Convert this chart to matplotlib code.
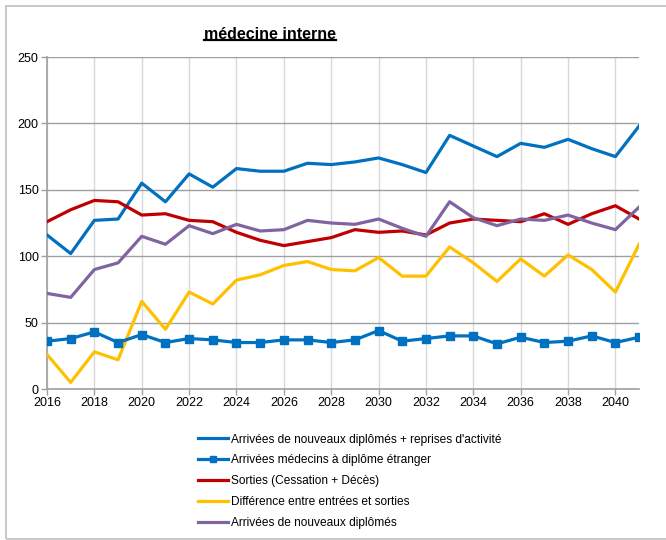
import matplotlib
matplotlib.use("Agg")
import matplotlib.pyplot as plt
from matplotlib.lines import Line2D
from matplotlib.patches import Rectangle

plt.rcParams['font.family'] = ['Liberation Sans', 'DejaVu Sans']

years = list(range(2016, 2042))

arrivees_reprises = [116, 102, 127, 128, 155, 141, 162, 152, 166, 164, 164, 170, 169, 171,
                     174, 169, 163, 191, 183, 175, 185, 182, 188, 181, 175, 198]
arrivees_etranger = [36, 38, 43, 35, 41, 35, 38, 37, 35, 35, 37, 37, 35, 37,
                     44, 36, 38, 40, 40, 34, 39, 35, 36, 40, 35, 39]
sorties = [126, 135, 142, 141, 131, 132, 127, 126, 118, 112, 108, 111, 114, 120,
           118, 119, 116, 125, 128, 127, 126, 132, 124, 132, 138, 128]
difference = [26, 5, 28, 22, 66, 45, 73, 64, 82, 86, 93, 96, 90, 89,
              99, 85, 85, 107, 95, 81, 98, 85, 101, 90, 73, 109]
nouveaux_diplomes = [72, 69, 90, 95, 115, 109, 123, 117, 124, 119, 120, 127, 125, 124,
                     128, 121, 115, 141, 129, 123, 128, 127, 131, 125, 120, 137]

labels = [
    "Arrivées de nouveaux diplômés + reprises d'activité",
    "Arrivées médecins à diplôme étranger",
    "Sorties (Cessation + Décès)",
    "Différence entre entrées et sorties",
    "Arrivées de nouveaux diplômés",
]
title = "médecine interne"

fig = plt.figure(figsize=(6.66, 5.4), dpi=100)
ax = fig.add_axes([0.0706, 0.2796, 0.889, 0.6148])

lw = 2.3
ax.plot(years, arrivees_reprises, color="#0070C0", lw=lw, label=labels[0], zorder=3)
ax.plot(years, arrivees_etranger, color="#0070C0", lw=lw, marker="s", markersize=6,
        label=labels[1], zorder=4)
ax.plot(years, sorties, color="#C00000", lw=lw, label=labels[2], zorder=3)
ax.plot(years, difference, color="#FFC000", lw=lw, label=labels[3], zorder=3)
ax.plot(years, nouveaux_diplomes, color="#8064A2", lw=lw, label=labels[4], zorder=3)

ax.set_xlim(2016, 2041)
ax.set_ylim(0, 250)
ax.set_xticks(range(2016, 2041, 2))
ax.set_yticks(range(0, 251, 50))
ax.tick_params(axis='both', labelsize=9, length=4, color="#a0a0a0", width=1, pad=2)

ax.xaxis.grid(True, color="#d9d9d9", lw=1)
ax.yaxis.grid(True, color="#a0a0a0", lw=1)
ax.set_axisbelow(True)
for side in ("top", "right"):
    ax.spines[side].set_visible(False)
for side in ("left", "bottom"):
    ax.spines[side].set_color("#a0a0a0")
    ax.spines[side].set_linewidth(1.2)

# Title with an underline drawn beneath its extent
t = fig.text(0.406, 0.937, title, ha="center", va="center", fontsize=11.5, fontweight="bold")
fig.canvas.draw()
bb = t.get_window_extent().transformed(fig.transFigure.inverted())
fig.add_artist(Line2D([bb.x0, bb.x1], [bb.y0 + 0.002, bb.y0 + 0.002],
                      transform=fig.transFigure, color="black", lw=1.6))

fig.legend(loc="upper left", bbox_to_anchor=(0.289, 0.208), frameon=False,
           fontsize=8.6, handlelength=2.5, handletextpad=0.2, labelspacing=0.74,
           borderpad=0, markerscale=0.75)

# Outer frame
fig.add_artist(Rectangle((0.009, 0.002), 1.2, 0.987, transform=fig.transFigure,
                         fill=False, edgecolor="#bfbfbf", lw=1.2))

fig.savefig("out.png", dpi=100)
